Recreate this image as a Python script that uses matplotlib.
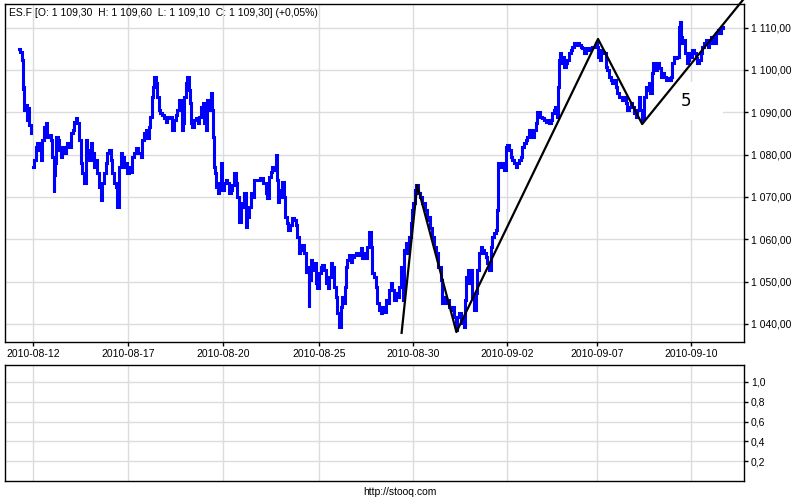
import matplotlib.pyplot as plt
from matplotlib.patches import Rectangle
import numpy as np

plt.rcParams['font.family'] = ['Liberation Sans', 'DejaVu Sans']
plt.rcParams['font.size'] = 7.5

# x = trading-day position (0 = 2010-08-12), y = ES.F price
day = [-0.44, -0.38, -0.33, -0.33, -0.28, -0.28, -0.22, -0.18, -0.13, -0.10, -0.04,
       np.nan,
       -0.02, 0.03, 0.06, 0.12, 0.17, 0.22, 0.28, 0.33, 0.38, 0.44, 0.49, 0.54, 0.60, 0.65, 0.68, 0.70,
       0.72, 0.78, 0.83, 0.86, 0.92, 0.97, 1.02, 1.08, 1.13, 1.18, 1.24, 1.29, 1.34, 1.39, 1.45, 1.50,
       1.55, 1.61, 1.66, 1.71, 1.77, 1.82, 1.87, 1.92, 1.98, 2.03, 2.08, 2.14, 2.19, 2.24, 2.30, 2.35,
       2.40, 2.46, 2.51, 2.56, 2.62, 2.67, 2.72, 2.78, 2.83, 2.88, 2.94, 2.99, 3.04, 3.10, 3.15, 3.20,
       3.26, 3.31, 3.42, 3.47, 3.50, 3.58, 3.63, 3.68, 3.73, 3.77, 3.81, 3.86, 3.89, 3.95, 4.00, 4.03,
       4.11, 4.16, 4.21, 4.27, 4.32, 4.37, 4.43, 4.48, 4.53, 4.59, 4.64, 4.69, 4.75, 4.78, 4.82, 4.85,
       4.91, 4.96, 5.01, 5.04, 5.07, 5.12, 5.17, 5.23, 5.28, 5.33, 5.39, 5.44, 5.49, 5.54, 5.60, 5.65,
       5.70, 5.73, 5.76, 5.79, 5.84, 5.88, 5.92, 5.97, 6.02, 6.07, 6.13, 6.18, 6.23, 6.29, 6.34, 6.39,
       6.45, 6.50, 6.55, 6.61, 6.66, 6.71, 6.77, 6.82, 6.87, 6.93, 6.98, 7.03, 7.09, 7.19, 7.30, 7.41,
       7.46, 7.51, 7.57, 7.62, 7.67, 7.72, 7.78, 7.81, 7.83, 7.88, 7.94, 7.99, 8.04, 8.08, 8.13, 8.18,
       8.26, 8.31, 8.36, 8.42, 8.47, 8.50, 8.58, 8.63, 8.68, 8.74, 8.79, 8.82, 8.84, 8.90, 8.95, 9.00,
       9.06, 9.11, 9.16, 9.22, 9.27, 9.32, 9.38, 9.43, 9.48, 9.53, 9.59, 9.64, 9.69, 9.75, 9.80, 9.85,
       9.91, 9.96, 9.99, 10.02, 10.06, 10.12, 10.17, 10.22, 10.28, 10.33, 10.38, 10.44, 10.49, 10.54,
       10.59, 10.65, 10.70, 10.76, 10.81, 10.86, 10.92, 10.97, 11.02, 11.08, 11.13, 11.18, 11.24,
       11.29, 11.34, 11.40, 11.45, 11.50, 11.56, 11.61, 11.66, 11.71, 11.77, 11.79, 11.82, 11.85,
       11.87, 11.93, 11.98, 12.03, 12.09, 12.12, 12.16, 12.22, 12.27, 12.33, 12.38, 12.44, 12.49,
       12.54, 12.60, 12.65, 12.70, 12.76, 12.83, 12.89, 12.99, 13.04, 13.10, 13.15, 13.20, 13.26,
       13.31, 13.36, 13.41, 13.47, 13.52, 13.57, 13.63, 13.68, 13.73, 13.79, 13.82, 13.86, 13.91,
       13.95, 14.00, 14.05, 14.11, 14.16, 14.21, 14.27, 14.32, 14.37, 14.43, 14.48, 14.53, 14.59,
       14.64, 14.67, 14.75, 14.80, 14.82, 14.85, 14.87, 14.91, 14.96, 15.01, 15.07, 15.12, 15.17,
       15.23, 15.28, 15.33, 15.39, 15.44, 15.49, 15.55, 15.60, 15.65, 15.70, 15.76, 15.81, 15.86,
       15.92, 15.97, 16.02, 16.08, 16.11, 16.16, 16.21, 16.29, 16.34, 16.40, 16.45, 16.50, 16.56,
       16.61, 16.66, 16.69, 16.74, 16.77, 16.80, 16.84, 16.88, 16.93, 16.98, 17.04, 17.09, 17.14,
       17.20, 17.25, 17.30, 17.36, 17.41, 17.46, 17.51, 17.57, 17.62, 17.67, 17.73, 17.78, 17.83,
       17.89, 17.94, 17.99, 18.04, 18.07, 18.12, 18.16, 18.20, 18.26, 18.31, 18.37, 18.42, 18.47,
       18.53, 18.58, 18.63, 18.68, 18.74, 18.79, 18.84, 18.90, 18.95, 19.00, 19.06, 19.11, 19.16,
       19.22, 19.27, 19.32, 19.37, 19.41, 19.45, 19.49, 19.53, 19.59, 19.64, 19.69, 19.73, 19.77,
       19.80, 19.85, 19.91, 19.96, 20.01, 20.07, 20.12, 20.17, 20.23, 20.28, 20.33, 20.39, 20.44,
       20.49, 20.55, 20.60, 20.65, 20.67, 20.71, 20.76, 20.81, 20.84, 20.89, 20.93, 20.97, 21.03,
       21.08, 21.13, 21.19, 21.24, 21.29, 21.35, 21.40, 21.45, 21.51, 21.56, 21.61, 21.67, 21.72,
       21.77, 21.83, 21.88, 21.93, 21.99, 22.04]
price = [1104.9, 1104.2, 1102.3, 1095.2, 1096.0, 1090.5, 1091.7, 1088.2, 1091.0, 1087.0, 1085.1,
         np.nan,
         1077.1, 1077.1, 1078.7, 1081.8, 1082.7, 1081.1, 1078.7, 1083.4, 1086.5, 1087.5, 1084.2,
         1084.6, 1083.4, 1079.4, 1071.2, 1075.2, 1078.0, 1084.2, 1083.4, 1081.1, 1079.4, 1081.8,
         1080.4, 1081.8, 1082.7, 1081.8, 1085.1, 1085.8, 1087.7, 1088.6, 1087.5, 1083.4, 1078.0,
         1075.7, 1073.3, 1083.4, 1081.1, 1078.7, 1082.7, 1080.4, 1077.1, 1078.7, 1075.7, 1072.3,
         1069.3, 1073.3, 1075.7, 1078.0, 1080.4, 1081.1, 1078.7, 1075.7, 1073.3, 1072.3, 1067.6,
         1077.1, 1080.4, 1079.4, 1077.1, 1078.0, 1075.7, 1077.1, 1075.9, 1079.4, 1080.4, 1081.6,
         1080.4, 1079.4, 1083.4, 1085.1, 1085.8, 1083.9, 1086.5, 1088.9, 1093.6, 1096.0, 1098.3,
         1096.9, 1093.6, 1090.5, 1089.8, 1089.3, 1088.6, 1087.7, 1088.9, 1088.6, 1088.9, 1085.8,
         1088.2, 1089.3, 1090.5, 1092.9, 1090.5, 1085.8, 1087.5, 1093.6, 1096.9, 1098.3, 1095.2,
         1092.2, 1087.5, 1086.5, 1088.2, 1088.6, 1087.5, 1088.9, 1091.2, 1092.2, 1087.5, 1085.8,
         1092.9, 1090.5, 1094.5, 1090.5, 1084.2, 1077.1, 1075.7, 1072.3, 1070.9, 1073.3, 1078.0,
         1071.6, 1073.3, 1074.0, 1073.3, 1070.9, 1071.6, 1072.8, 1075.7, 1073.3, 1070.0, 1064.1,
         1068.6, 1067.6, 1070.9, 1062.9, 1065.3, 1067.6, 1070.9, 1070.0, 1074.0, 1074.0, 1074.5,
         1073.3, 1070.9, 1069.7, 1074.7, 1075.9, 1077.1, 1076.4, 1079.9, 1074.0, 1068.8, 1070.0,
         1071.6, 1073.5, 1070.0, 1065.3, 1063.8, 1062.2, 1063.4, 1065.0, 1064.6, 1063.4, 1060.5,
         1056.8, 1057.5, 1058.7, 1056.8, 1052.3, 1053.5, 1044.0, 1050.4, 1055.1, 1052.7, 1054.4,
         1049.7, 1048.5, 1052.0, 1053.5, 1053.9, 1052.7, 1049.7, 1048.5, 1051.1, 1054.4, 1053.5,
         1048.7, 1046.4, 1042.6, 1039.3, 1044.0, 1046.4, 1045.0, 1048.7, 1053.5, 1055.1, 1056.3,
         1054.6, 1055.8, 1056.3, 1056.8, 1056.3, 1056.8, 1057.9, 1055.6, 1056.8, 1055.6, 1058.2,
         1061.7, 1058.2, 1052.0, 1051.1, 1048.7, 1045.0, 1043.3, 1042.6, 1044.0, 1042.8, 1045.7,
         1045.0, 1048.0, 1049.7, 1048.0, 1045.7, 1047.3, 1046.4, 1048.7, 1053.5, 1050.4, 1045.7,
         1051.1, 1057.5, 1059.1, 1056.8, 1060.5, 1063.8, 1066.9, 1068.6, 1071.6, 1072.8, 1070.9,
         1070.0, 1068.6, 1068.6, 1066.9, 1064.6, 1065.3, 1062.7, 1060.5, 1058.2, 1056.8, 1053.5,
         1050.4, 1045.0, 1046.4, 1045.0, 1045.7, 1044.0, 1043.3, 1044.0, 1041.7, 1038.6, 1041.7,
         1042.6, 1040.2, 1041.7, 1039.3, 1045.7, 1051.1, 1052.7, 1049.7, 1052.7, 1046.4, 1043.3,
         1047.3, 1052.7, 1056.8, 1058.2, 1057.5, 1056.8, 1055.8, 1054.4, 1052.7, 1058.2, 1060.5,
         1061.5, 1062.2, 1066.9, 1074.7, 1078.0, 1078.0, 1077.1, 1078.0, 1076.4, 1081.8, 1082.3,
         1081.1, 1079.4, 1078.7, 1078.0, 1077.1, 1078.0, 1078.7, 1079.4, 1081.8, 1082.7, 1083.4,
         1084.2, 1085.8, 1085.1, 1084.2, 1085.8, 1087.5, 1090.1, 1090.1, 1088.9, 1088.6, 1088.2,
         1087.7, 1088.2, 1087.5, 1088.2, 1089.8, 1090.5, 1091.2, 1088.9, 1096.0, 1102.3, 1104.0,
         1101.6, 1103.0, 1100.7, 1101.6, 1102.3, 1104.0, 1104.7, 1105.4, 1106.3, 1105.9, 1106.3,
         1105.9, 1105.4, 1105.2, 1104.0, 1104.7, 1105.2, 1104.7, 1105.2, 1105.4, 1105.4, 1106.3,
         1105.4, 1103.0, 1102.3, 1104.7, 1104.2, 1104.0, 1100.7, 1100.0, 1098.3, 1097.6, 1096.9,
         1097.6, 1096.0, 1094.5, 1093.6, 1093.6, 1092.9, 1093.6, 1092.2, 1090.5, 1091.2, 1092.2,
         1091.2, 1089.8, 1088.9, 1090.5, 1093.6, 1090.5, 1088.2, 1088.9, 1093.6, 1096.0, 1095.2,
         1096.9, 1094.5, 1099.3, 1101.6, 1100.7, 1100.0, 1101.6, 1100.4, 1098.3, 1099.3, 1098.3,
         1097.6, 1098.1, 1097.6, 1098.3, 1101.6, 1103.0, 1102.8, 1103.0, 1110.1, 1111.3, 1107.8,
         1106.3, 1107.1, 1104.0, 1101.6, 1102.3, 1104.0, 1103.0, 1104.7, 1104.0, 1102.8, 1101.6,
         1102.3, 1104.0, 1105.4, 1106.3, 1107.1, 1105.4, 1106.3, 1107.8, 1107.1, 1106.3, 1108.7,
         1109.4, 1108.7, 1109.9, 1110.1]

# hand-drawn trend lines (turning points)
trend_day = [11.77, 12.27, 13.52, 18.04, 19.45, 22.72]
trend_price = [1037.9, 1072.8, 1038.1, 1107.3, 1087.2, 1117.0]

tick_pos = [0, 3.03, 6.06, 9.13, 12.13, 15.13, 18.0, 21.0]
tick_labels = ['2010-08-12', '2010-08-17', '2010-08-20', '2010-08-25',
               '2010-08-30', '2010-09-02', '2010-09-07', '2010-09-10']
price_ticks = [1040, 1050, 1060, 1070, 1080, 1090, 1100, 1110]
lower_ticks = [0.2, 0.4, 0.6, 0.8, 1.0]

title = 'ES.F [O: 1 109,30  H: 1 109,60  L: 1 109,10  C: 1 109,30] (+0,05%)'

fig = plt.figure(figsize=(8, 5), dpi=100)
ax = fig.add_axes([0.00625, 0.316, 0.92375, 0.676])
ax2 = fig.add_axes([0.00625, 0.038, 0.92375, 0.232])

grid_c = '#dcdcdc'

# main panel
ax.plot(day, price, color='#0000ff', linewidth=2.2, drawstyle='steps-mid',
        solid_joinstyle='miter', zorder=2)
ax.plot(trend_day, trend_price, color='black', linewidth=1.6, zorder=3, clip_on=False)
ax.add_patch(Rectangle((19.38, 1088.2), 2.64, 8.9, facecolor='white', edgecolor='none', zorder=1))
ax.text(20.84, 1092.7, '5', fontsize=12, ha='center', va='center', zorder=4, family='DejaVu Sans')

ax.set_xlim(-0.89, 22.70)
ax.set_ylim(1035.75, 1115.55)
ax.set_xticks(tick_pos)
ax.set_xticklabels(tick_labels)
ax.set_yticks(price_ticks)
ax.set_yticklabels(['%d %03d,00' % (v // 1000, v % 1000) for v in price_ticks])
ax.yaxis.tick_right()
ax.grid(True, color=grid_c, linewidth=1)
ax.set_axisbelow(True)
ax.tick_params(length=3, width=1, pad=2)
ax.text(0.0054, 0.973, title, transform=ax.transAxes, ha='left', va='center', fontsize=7.5)

# lower (empty) panel
ax2.set_xlim(-0.89, 22.70)
ax2.set_ylim(0, 1.17)
ax2.set_xticks(tick_pos)
ax2.set_xticklabels([])
ax2.tick_params(axis='x', length=0)
ax2.set_yticks(lower_ticks)
ax2.set_yticklabels([('%.1f' % v).replace('.', ',') for v in lower_ticks])
ax2.yaxis.tick_right()
ax2.tick_params(axis='y', length=3, width=1, pad=2)
ax2.grid(True, color=grid_c, linewidth=1)
ax2.set_axisbelow(True)

for a in (ax, ax2):
    for s in a.spines.values():
        s.set_linewidth(1)

fig.text(0.5, 0.016, 'http://stooq.com', ha='center', va='center', fontsize=7.5)

plt.savefig('out.png', dpi=100)
